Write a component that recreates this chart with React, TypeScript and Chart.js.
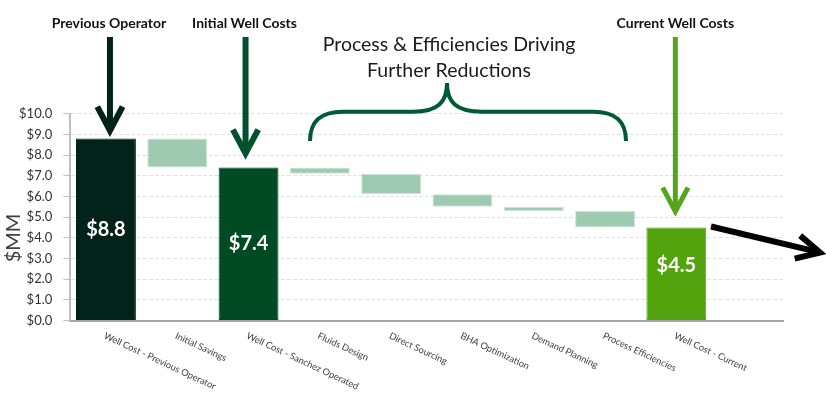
import React, { useEffect, useRef } from "react";
import { Chart, registerables } from "chart.js";

Chart.register(...registerables);

const categories = [
  "Well Cost - Previous Operator",
  "Initial Savings",
  "Well Cost - Sanchez Operated",
  "Fluids Design",
  "Direct Sourcing",
  "BHA Optimization",
  "Demand Planning",
  "Process Efficiencies",
  "Well Cost - Current",
  "",
];
const barStart = [0, 8.8, 0, 7.4, 7.1, 6.1, 5.5, 5.3, 0];
const barEnd = [8.8, 7.4, 7.4, 7.1, 6.1, 5.5, 5.3, 4.5, 4.5];
const totalIndexes = [0, 2, 8];
const barColors = ["#01231a", "#9fcab2", "#004b23", "#9fcab2", "#9fcab2", "#9fcab2", "#9fcab2", "#9fcab2", "#53a30e"];
const barBorders = ["#01231a", "#cfe5d8", "#004b23", "#cfe5d8", "#cfe5d8", "#cfe5d8", "#cfe5d8", "#cfe5d8", "#53a30e"];
const yMin = 0;
const yMax = 10;
const yStep = 1;
const callouts = [
  { text: "Previous Operator", index: 0, color: "#01231a", dx: 4, textDx: 3, gap: 8, width: 6 },
  { text: "Initial Well Costs", index: 2, color: "#00522e", dx: -3, textDx: -4, gap: 14, width: 6 },
  { text: "Current Well Costs", index: 8, color: "#55a51a", dx: -1, textDx: -1, gap: 16, width: 5 },
];
const braceTitle = ["Process & Efficiencies Driving", "Further Reductions"];

const FONT = "Lato, 'Open Sans', sans-serif";

function drawArrow(ctx: CanvasRenderingContext2D, x1: number, y1: number, x2: number, y2: number, color: string, width: number, headLen: number, headAng: number) {
  ctx.save();
  ctx.strokeStyle = color;
  ctx.lineWidth = width;
  ctx.lineCap = "butt";
  ctx.lineJoin = "miter";
  const a = Math.atan2(y2 - y1, x2 - x1);
  ctx.beginPath();
  ctx.moveTo(x1, y1);
  ctx.lineTo(x2 - Math.cos(a) * width * 0.6, y2 - Math.sin(a) * width * 0.6);
  ctx.stroke();
  ctx.beginPath();
  ctx.moveTo(x2 - headLen * Math.cos(a - headAng), y2 - headLen * Math.sin(a - headAng));
  ctx.lineTo(x2, y2);
  ctx.lineTo(x2 - headLen * Math.cos(a + headAng), y2 - headLen * Math.sin(a + headAng));
  ctx.stroke();
  ctx.restore();
}

const annotations = {
  id: "annotations",
  afterDraw(chart: any) {
    const ctx: CanvasRenderingContext2D = chart.ctx;
    const xs = chart.scales.x;
    const ys = chart.scales.y;
    ctx.save();

    // value labels in total bars
    ctx.fillStyle = "#ffffff";
    ctx.font = `bold 20px ${FONT}`;
    ctx.textAlign = "center";
    ctx.textBaseline = "middle";
    totalIndexes.forEach((i, k) => {
      const cx = xs.getPixelForValue(i);
      const top = ys.getPixelForValue(barEnd[i]);
      const bot = ys.getPixelForValue(0);
      const y = (top + bot) / 2 - (k === 2 ? 8 : 0);
      ctx.fillText("$" + barEnd[i].toFixed(1), cx, y);
    });

    // rotated category labels
    ctx.fillStyle = "#404040";
    ctx.font = `9.3px ${FONT}`;
    ctx.textAlign = "left";
    ctx.textBaseline = "top";
    categories.forEach((c, i) => {
      if (!c) return;
      ctx.save();
      ctx.translate(xs.getPixelForValue(i) + 0.5, ys.bottom + 10.5);
      ctx.rotate((25 * Math.PI) / 180);
      ctx.fillText(c, 0, 0);
      ctx.restore();
    });

    // y axis title
    ctx.save();
    ctx.translate(14, 238);
    ctx.rotate(-Math.PI / 2);
    ctx.fillStyle = "#404040";
    ctx.font = `20px ${FONT}`;
    ctx.textAlign = "center";
    ctx.textBaseline = "middle";
    ctx.fillText("$MM", 0, 0);
    ctx.restore();

    // callouts with arrows
    callouts.forEach((c) => {
      const cx = xs.getPixelForValue(c.index);
      ctx.fillStyle = "#111111";
      ctx.font = `bold 14px ${FONT}`;
      ctx.textAlign = "center";
      ctx.textBaseline = "middle";
      ctx.fillText(c.text, cx + c.textDx, 23);
      const tip = ys.getPixelForValue(barEnd[c.index]) - c.gap;
      drawArrow(ctx, cx + c.dx, 37, cx + c.dx, tip, c.color, c.width, 27, (28 * Math.PI) / 180);
    });

    // brace title
    ctx.fillStyle = "#1a1a1a";
    ctx.font = `19.5px ${FONT}`;
    ctx.textAlign = "center";
    ctx.textBaseline = "middle";
    ctx.fillText(braceTitle[0], 449, 45);
    ctx.fillText(braceTitle[1], 449, 71);

    // curly brace
    ctx.strokeStyle = "#005a34";
    ctx.lineWidth = 4;
    ctx.lineCap = "butt";
    ctx.beginPath();
    ctx.moveTo(310, 141);
    ctx.bezierCurveTo(310, 120, 322, 111.7, 343, 111.7);
    ctx.lineTo(413, 111.7);
    ctx.bezierCurveTo(438, 111.7, 447, 102, 447, 83);
    ctx.bezierCurveTo(447, 102, 456, 111.7, 482, 111.7);
    ctx.lineTo(593, 111.7);
    ctx.bezierCurveTo(614, 111.7, 626, 120, 626, 141);
    ctx.stroke();

    // black trend arrow
    drawArrow(ctx, 711, 226.5, 820, 252.5, "#000000", 6, 26, (27 * Math.PI) / 180);

    ctx.restore();
  },
};

export default function App() {
  const ref = useRef<HTMLCanvasElement>(null);
  useEffect(() => {
    if (!ref.current) return;
    Chart.defaults.font.family = FONT;
    const data = categories.map((_, i) => (i < barStart.length ? [barStart[i], barEnd[i]] : null));
    const chart = new Chart(ref.current, {
      type: "bar",
      data: {
        labels: categories,
        datasets: [
          {
            data: data as any,
            backgroundColor: barColors,
            borderColor: barBorders,
            borderWidth: 1,
            borderSkipped: false,
            barPercentage: 0.84,
            categoryPercentage: 1,
          },
        ],
      },
      options: {
        responsive: false,
        animation: false,
        layout: { padding: { left: 0, top: 113.7, right: 42.7, bottom: 0 } },
        plugins: { legend: { display: false }, tooltip: { enabled: false } },
        scales: {
          x: {
            grid: { display: true, drawOnChartArea: false, drawTicks: false },
            border: { display: true, color: "#a6a6a6", width: 2 },
            ticks: { display: false },
            afterFit: (s: any) => {
              s.height = 72.5;
            },
          },
          y: {
            min: yMin,
            max: yMax,
            grid: { color: "#e2e2e2", lineWidth: 1, tickColor: "#bfbfbf", tickLength: 7, tickBorderDash: [] },
            border: { display: true, color: "#bfbfbf", width: 2, dash: [4, 2] },
            ticks: {
              stepSize: yStep,
              padding: 11,
              color: "#333333",
              font: { size: 13, family: FONT },
              callback: (v: any) => "$" + Number(v).toFixed(1),
            },
            afterFit: (s: any) => {
              s.width = 70.3;
            },
          },
        },
      },
      plugins: [annotations],
    });
    return () => chart.destroy();
  }, []);
  return (
    <div style={{ position: "fixed", left: 0, top: 0, width: 826, height: 393, background: "#fff" }}>
      <canvas ref={ref} width={826} height={393} style={{ display: "block" }} />
    </div>
  );
}
